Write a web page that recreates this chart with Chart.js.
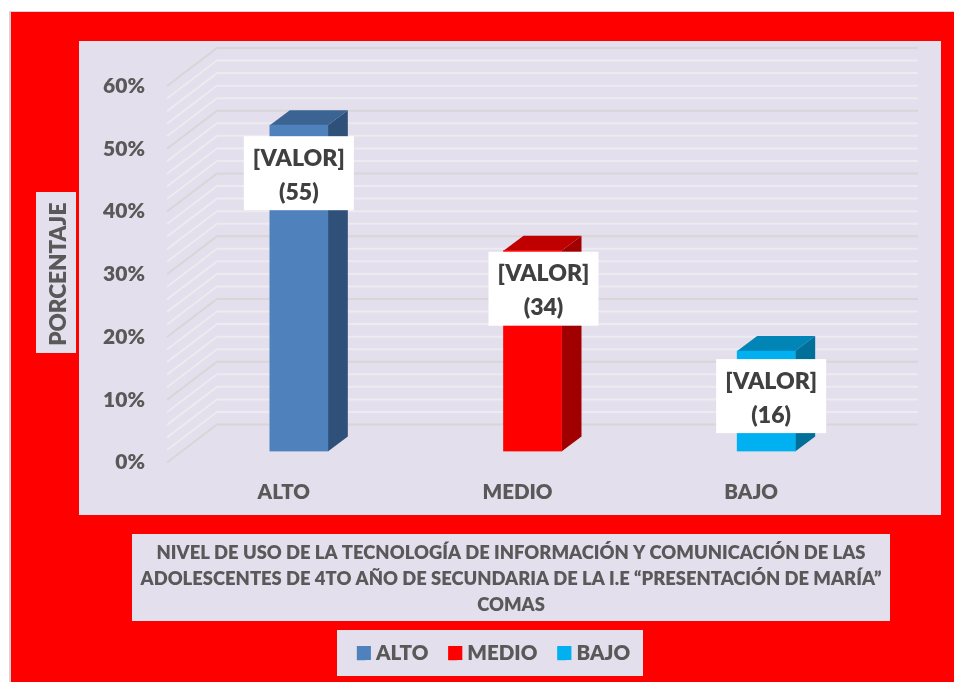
<!DOCTYPE html>
<html><head><meta charset="utf-8">
<style>html,body{margin:0;padding:0;background:#fff}canvas{display:block}</style>
<script src="https://cdn.jsdelivr.net/npm/chart.js@4"></script>
</head><body><canvas id="c" width="954" height="682"></canvas>
<script>
const categories = ['ALTO', 'MEDIO', 'BAJO'];
const percentValues = [52, 32, 16];
const labelCounts = [55, 34, 16];
const frontColors = ['#4f81bd', '#ff0000', '#00b0f0'];
const topColors = ['#3c6493', '#c00000', '#0085b6'];
const sideColors = ['#2f5179', '#a00000', '#006f99'];
const titleLines = [
  'NIVEL DE USO DE LA TECNOLOGÍA DE INFORMACIÓN Y COMUNICACIÓN DE LAS',
  'ADOLESCENTES DE 4TO AÑO DE SECUNDARIA DE LA I.E “PRESENTACIÓN DE MARÍA”',
  'COMAS'
];
const axisTitle = 'PORCENTAJE';

const FONT = 'Lato, Carlito, sans-serif';
const WEIGHT = 800;
const GREY = '#595959';
const PANEL = '#e4dfec';
const WALL = {dx: 50, dy: -38, right: 918};
const BAR = {shiftX: 15, shiftY: -11, dx: 20, dy: -15};
const LABEL = {offsets: [[0, 48], [11, 38], [5, 45]], w: 110, h: 74, gap: 34, textShift: 2};

const scene = {
  id: 'scene',
  beforeDraw(chart) {
    const c = chart.ctx;
    c.save();
    c.fillStyle = '#ffffff'; c.fillRect(0, 0, 954, 682);
    c.fillStyle = '#d4d4d4'; c.fillRect(9, 11, 945, 671);
    c.fillStyle = '#ff0000'; c.fillRect(11, 12, 943, 670);
    c.fillStyle = PANEL;
    c.fillRect(79, 41, 862, 474);
    c.fillRect(36, 192, 40, 161);
    c.fillRect(132, 534, 758, 87);
    c.fillRect(337, 630, 306, 46);
    c.restore();
  },
  beforeDatasetsDraw(chart) {
    const c = chart.ctx, y = chart.scales.y, a = chart.chartArea;
    c.save();
    c.lineWidth = 2;
    y.ticks.forEach(t => {
      const p = y.getPixelForValue(t.value);
      const major = t.value % 10 === 0;
      c.strokeStyle = major ? '#d8d6d6' : '#ecebf0';
      c.beginPath();
      c.moveTo(a.left, p);
      c.lineTo(a.left + WALL.dx, p + WALL.dy);
      c.lineTo(WALL.right, p + WALL.dy);
      c.stroke();
    });
    c.translate(BAR.shiftX, BAR.shiftY);
    chart.getDatasetMeta(0).data.forEach((b, i) => {
      const x0 = b.x - b.width / 2, x1 = b.x + b.width / 2;
      c.fillStyle = topColors[i];
      c.beginPath();
      c.moveTo(x0, b.y); c.lineTo(x1, b.y);
      c.lineTo(x1 + BAR.dx, b.y + BAR.dy); c.lineTo(x0 + BAR.dx, b.y + BAR.dy);
      c.closePath(); c.fill();
      c.fillStyle = sideColors[i];
      c.beginPath();
      c.moveTo(x1, b.y); c.lineTo(x1 + BAR.dx, b.y + BAR.dy);
      c.lineTo(x1 + BAR.dx, b.base + BAR.dy); c.lineTo(x1, b.base);
      c.closePath(); c.fill();
    });
    // the front faces are drawn by the library in this shifted plane
  },
  afterDatasetsDraw(chart) {
    const c = chart.ctx;
    c.restore();
    c.save();
    c.textAlign = 'center'; c.textBaseline = 'middle';
    chart.getDatasetMeta(0).data.forEach((b, i) => {
      const cx = b.x + BAR.shiftX + LABEL.offsets[i][0];
      const cy = b.y + BAR.shiftY + LABEL.offsets[i][1];
      c.fillStyle = '#ffffff';
      c.fillRect(cx - LABEL.w / 2, cy - LABEL.h / 2, LABEL.w, LABEL.h);
      c.fillStyle = '#404040';
      c.font = WEIGHT + ' 23px ' + FONT;
      c.fillText('[VALOR]', cx, cy - LABEL.gap / 2 + LABEL.textShift);
      c.fillText('(' + labelCounts[i] + ')', cx, cy + LABEL.gap / 2 + LABEL.textShift);
    });
    c.restore();
  },
  afterLayout(chart) {
    const t = chart.titleBlock, l = chart.legend;
    t.left = 132; t.right = 890; t.top = 540; t.bottom = 618; t.width = 758;
    l.left = 199; l.right = 788; l.top = 623; l.bottom = 676; l.width = 589;
    l.adjustHitBoxes();
  },
  afterDraw(chart) {
    const c = chart.ctx, l = chart.legend;
    c.save();
    l.legendItems.forEach((it, i) => {
      c.fillStyle = it.fillStyle;
      c.fillRect(l.legendHitBoxes[i].left, l.top + 23, 14, 14);
    });
    c.restore();
  }
};

new Chart(document.getElementById('c'), {
  type: 'bar',
  data: {
    labels: categories,
    datasets: [{
      data: percentValues,
      backgroundColor: frontColors,
      borderWidth: 0,
      barThickness: 58
    }]
  },
  plugins: [scene],
  options: {
    responsive: false,
    animation: false,
    events: [],
    layout: {padding: {left: 36, right: 86, top: 86, bottom: 41}},
    scales: {
      x: {
        grid: {display: false},
        border: {display: false},
        ticks: {color: GREY, padding: 10, font: {family: FONT, size: 20.5, weight: WEIGHT}},
        afterFit(s) { s.height = 50; }
      },
      y: {
        min: 0, max: 60,
        grid: {display: false},
        border: {display: false},
        ticks: {
          stepSize: 2, autoSkip: false, padding: 14, color: GREY,
          font: {family: FONT, size: 21, weight: WEIGHT},
          callback: v => (v % 10 === 0 ? v + '%' : '')
        },
        title: {
          display: true, text: axisTitle, color: GREY,
          font: {family: FONT, size: 22.5, weight: WEIGHT},
          padding: {top: 9, bottom: 0}
        },
        afterFit(s) { s.width = 131; }
      }
    },
    plugins: {
      tooltip: {enabled: false},
      title: {
        display: true, position: 'bottom', text: titleLines, color: GREY,
        padding: 0,
        font: {family: FONT, size: 18.4, weight: WEIGHT, lineHeight: 1.413}
      },
      legend: {
        position: 'bottom',
        labels: {
          boxWidth: 8.75, boxHeight: 14, padding: 20, color: GREY,
          font: {family: FONT, size: 20.5, weight: WEIGHT},
          generateLabels: () => categories.map((name, i) => ({
            text: name, fillStyle: frontColors[i], strokeStyle: frontColors[i],
            lineWidth: 0, index: i, fontColor: GREY
          }))
        }
      }
    }
  }
});
</script></body></html>
